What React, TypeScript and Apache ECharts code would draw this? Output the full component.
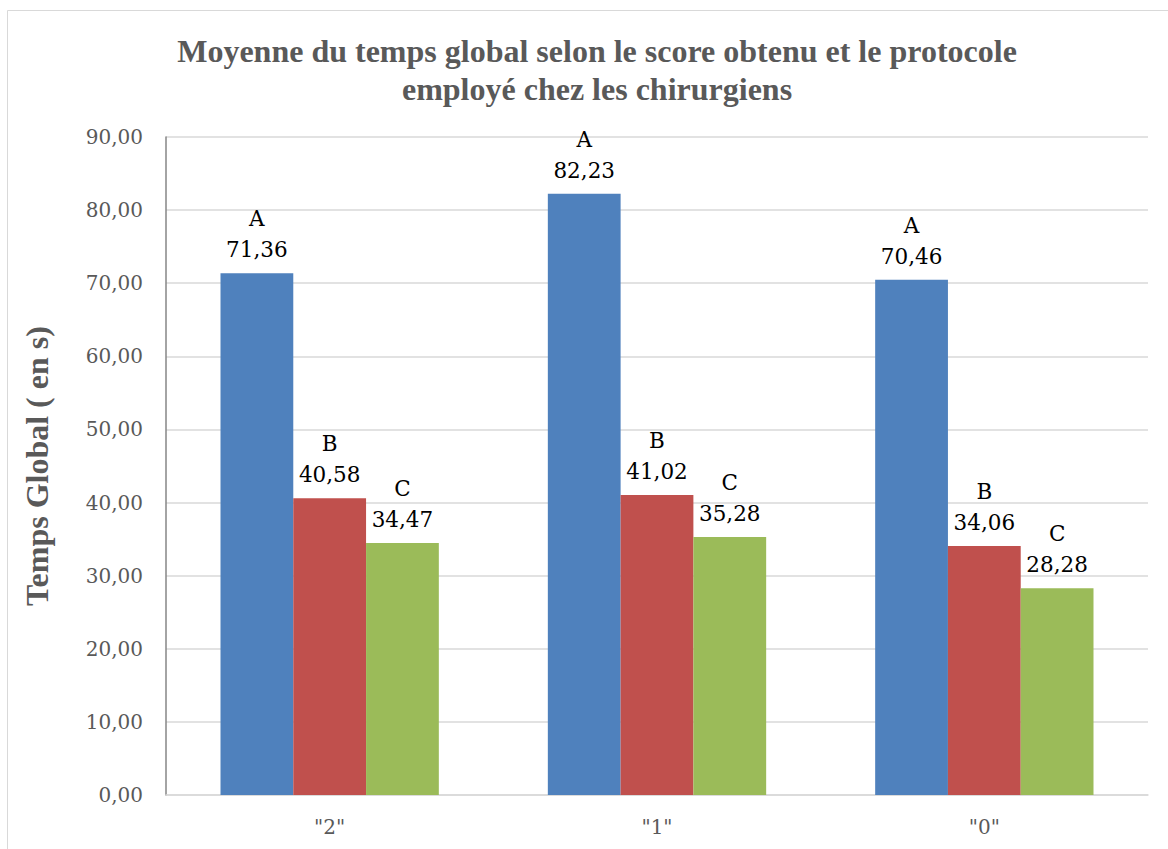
import React, { useEffect, useRef } from "react";
import * as echarts from "echarts";

const categories = ['"2"', '"1"', '"0"'];
const seriesNames = ["A", "B", "C"];
const valuesA = [71.36, 82.23, 70.46];
const valuesB = [40.58, 41.02, 34.06];
const valuesC = [34.47, 35.28, 28.28];
const colors = ["#4F81BD", "#C0504D", "#9BBB59"];

const fmt = (v: number) => v.toFixed(2).replace(".", ",");

export default function App() {
  const ref = useRef<HTMLDivElement>(null);
  useEffect(() => {
    if (!ref.current) return;
    const chart = echarts.init(ref.current, undefined, { renderer: "svg" });
    const data = [valuesA, valuesB, valuesC];
    chart.setOption({
      animation: false,
      backgroundColor: "#ffffff",
      graphic: [
        {
          type: "rect",
          shape: { x: 7.5, y: 10.5, width: 1300, height: 1000 },
          style: { fill: "none", stroke: "#d9d9d9", lineWidth: 1 },
          silent: true,
        },
      ],
      title: {
        text: "Moyenne du temps global selon le score obtenu et le protocole\nemployé chez les chirurgiens",
        left: 592,
        top: 27,
        textAlign: "center",
        textStyle: {
          fontFamily: "Liberation Serif",
          fontWeight: "bold",
          fontSize: 32,
          color: "#595959",
          lineHeight: 38,
        },
      },
      grid: { left: 166, top: 137, right: 20, bottom: 54, containLabel: false },
      xAxis: {
        type: "category",
        data: categories,
        axisLine: { lineStyle: { color: "#d9d9d9", width: 1.5 } },
        axisTick: { show: false },
        axisLabel: {
          color: "#595959",
          fontFamily: "DejaVu Serif",
          fontSize: 20,
          margin: 22,
        },
      },
      yAxis: {
        type: "value",
        min: 0,
        max: 90,
        interval: 10,
        name: "Temps Global ( en s)",
        nameLocation: "middle",
        nameGap: 113,
        nameTextStyle: {
          fontFamily: "Liberation Serif",
          fontWeight: "bold",
          fontSize: 32,
          color: "#595959",
        },
        axisLine: { show: true, lineStyle: { color: "#868686", width: 1.5 } },
        axisTick: { show: false },
        splitLine: { lineStyle: { color: "#d9d9d9", width: 1.5 } },
        axisLabel: {
          color: "#595959",
          fontFamily: "DejaVu Serif",
          fontSize: 20,
          margin: 23,
          formatter: (v: number) => fmt(v),
        },
      },
      series: seriesNames.map((name, i) => ({
        name,
        type: "bar",
        data: data[i],
        barGap: "0%",
        barCategoryGap: "33.3%",
        itemStyle: { color: colors[i] },
        label: {
          show: true,
          position: "top",
          distance: 8,
          formatter: (p: any) => `{n|${name}}\n{v|${fmt(p.value)}}`,
          rich: {
            n: {
              fontFamily: "DejaVu Serif",
              fontSize: 21.5,
              color: "#000000",
              lineHeight: 31,
            },
            v: {
              fontFamily: "DejaVu Serif",
              fontSize: 21.5,
              color: "#000000",
              lineHeight: 31,
            },
          },
        },
      })),
    });
    return () => chart.dispose();
  }, []);
  return (
    <div
      ref={ref}
      style={{ position: "fixed", left: 0, top: 0, width: 1168, height: 849 }}
    />
  );
}
